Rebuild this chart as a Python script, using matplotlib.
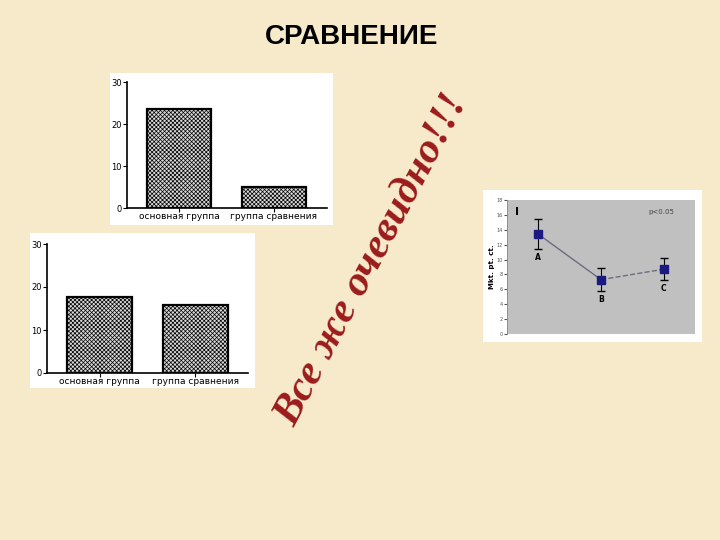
import matplotlib
matplotlib.use("Agg")
from matplotlib import pyplot as plt
from matplotlib.patches import Rectangle

groups = ["основная группа", "группа сравнения"]
top_vals = [23.6, 5.1]
bottom_vals = [17.7, 15.7]

points = ["A", "B", "C"]
point_vals = [13.4, 7.3, 8.7]
point_err = [2.0, 1.5, 1.5]

W, H = 720, 540
fig = plt.figure(figsize=(7.2, 5.4), dpi=100)
fig.patch.set_facecolor("#F7EACB")

def frac(x0, y0, x1, y1):
    # pixel box (top-left origin) -> figure fraction rect
    return [x0 / W, 1 - y1 / H, (x1 - x0) / W, (y1 - y0) / H]

def panel(x0, y0, x1, y1, color="white"):
    r = frac(x0, y0, x1, y1)
    fig.patches.append(Rectangle((r[0], r[1]), r[2], r[3], transform=fig.transFigure,
                                 facecolor=color, edgecolor="none", zorder=-10))

fig.text(352 / W, 1 - 37 / H, "СРАВНЕНИЕ", ha="center", va="center",
         fontsize=20, fontweight="bold", family="Liberation Sans")

plt.rcParams["hatch.color"] = "#3a3a3a"
plt.rcParams["hatch.linewidth"] = 0.5

def bar_chart(box, pbox, vals, xl):
    panel(*pbox)
    ax = fig.add_axes(frac(*box))
    ax.patch.set_alpha(0)
    ax.bar(range(len(vals)), vals, width=0.67, facecolor="#d8d8d8",
           edgecolor="black", linewidth=1.6, hatch="xxxxxxxx")
    ax.set_ylim(0, 30)
    ax.set_xlim(*xl)
    ax.set_yticks([0, 10, 20, 30])
    ax.set_xticks(range(len(vals)))
    ax.set_xticklabels(groups)
    for s in ["top", "right"]:
        ax.spines[s].set_visible(False)
    for s in ["left", "bottom"]:
        ax.spines[s].set_linewidth(1.2)
    ax.tick_params(axis="y", labelsize=6, length=3, pad=1)
    ax.tick_params(axis="x", labelsize=6.5, length=3, pad=0)
    return ax

bar_chart((127, 82, 327, 208), (110, 73, 333, 225), top_vals, (-0.547, 1.558))
bar_chart((47, 244, 248, 373), (30, 233, 255, 388), bottom_vals, (-0.547, 1.547))

# right chart
panel(483, 190, 702, 342)
ax = fig.add_axes(frac(507, 200, 695, 334))
ax.set_facecolor("#c0c0c0")
xs = range(len(points))
ax.plot(xs[:2], point_vals[:2], color="#6c6c80", lw=1.0)
ax.plot(xs[1:], point_vals[1:], color="#6c6c80", lw=1.0, ls="--")
ax.errorbar(xs, point_vals, yerr=point_err, fmt="s", color="#1a1a80",
            ecolor="black", elinewidth=0.8, capsize=3, markersize=6)
for x, v, e, p in zip(xs, point_vals, point_err, points):
    ax.text(x, v - e - 0.5, p, ha="center", va="top", fontsize=5.5, fontweight="bold")
ax.text(0.04, 0.91, "I", transform=ax.transAxes, fontsize=8, fontweight="bold", va="center")
ax.text(0.75, 0.91, "p<0.05", transform=ax.transAxes, fontsize=5, color="#444444", va="center")
ax.set_xlim(-0.5, 2.5)
ax.set_ylim(0, 18)
ax.set_yticks(range(0, 19, 2))
ax.set_xticks([])
ax.tick_params(axis="y", labelsize=3.5, length=2, pad=1, colors="#555555")
for s in ["top", "right", "bottom"]:
    ax.spines[s].set_visible(False)
ax.spines["left"].set_color("#888888")
ax.spines["left"].set_linewidth(0.6)
ax.set_ylabel("Mkt. pt. ct.", fontsize=5, fontweight="bold", labelpad=1)

fig.text(372 / W, 1 - 260 / H, "Все же очевидно!!!", rotation=62, ha="center", va="center",
         fontsize=31, style="italic", fontweight="bold", color="#9B1B1B",
         family="Liberation Serif")

fig.savefig("out.png", dpi=100, facecolor=fig.get_facecolor())
